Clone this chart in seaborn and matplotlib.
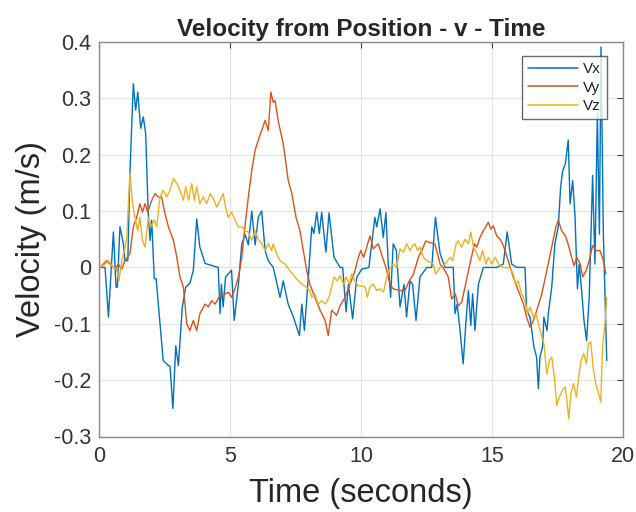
import numpy as np
import pandas as pd
import matplotlib
matplotlib.use("Agg")
import matplotlib.pyplot as plt
import seaborn as sns
from matplotlib.lines import Line2D

# ---- data ----
tx = [0.04, 0.23, 0.36, 0.55, 0.65, 0.70, 0.80, 0.93, 0.99, 1.10, 1.18, 1.31, 1.40, 1.48, 1.59, 1.69, 1.78,
      1.88, 1.95, 2.01, 2.11, 2.18, 2.33, 2.45, 2.58, 2.71, 2.82, 2.93, 3.03, 3.18, 3.31, 3.47, 3.60, 3.73,
      3.85, 4.05, 4.55, 4.62, 4.67, 4.74, 4.83, 5.06, 5.16, 5.32, 5.45, 5.58, 5.70, 5.83, 5.96, 6.08, 6.21,
      6.34, 6.46, 6.65, 6.91, 7.03, 7.22, 7.42, 7.65, 7.74, 7.84, 7.99, 8.12, 8.20, 8.31, 8.41, 8.50, 8.66,
      8.78, 8.97, 9.20, 9.30, 9.43, 9.52, 9.68, 9.84, 10.03, 10.30, 10.53, 10.60, 10.73, 10.85, 10.95, 11.04,
      11.13, 11.23, 11.35, 11.49, 11.64, 11.74, 11.87, 11.97, 12.10, 12.25, 12.51, 12.70, 12.84, 13.02, 13.21,
      13.52, 13.59, 13.67, 13.78, 13.90, 14.00, 14.10, 14.19, 14.26, 14.35, 14.48, 14.67, 15.18, 15.43, 15.58,
      15.75, 15.94, 16.26, 16.32, 16.45, 16.60, 16.70, 16.77, 16.83, 16.93, 16.98, 17.10, 17.15, 17.28, 17.40,
      17.53, 17.62, 17.70, 17.80, 17.91, 17.98, 18.08, 18.17, 18.26, 18.33, 18.42, 18.51, 18.61, 18.71, 18.84,
      18.93, 19.02, 19.10, 19.16, 19.25, 19.38]
vx = [0.0, 0.0, -0.088, 0.063, -0.035, -0.035, 0.072, 0.042, 0.012, 0.012, 0.167, 0.326, 0.279, 0.311, 0.247,
      0.267, 0.238, 0.095, 0.048, 0.084, -0.02, -0.02, -0.10, -0.165, -0.171, -0.176, -0.25, -0.139, -0.174,
      -0.07, -0.035, -0.028, -0.005, 0.086, 0.036, 0.007, 0.0, -0.082, -0.03, -0.07, -0.017, -0.005, -0.094,
      -0.03, 0.042, 0.058, 0.04, 0.10, 0.04, 0.089, 0.10, 0.03, 0.012, 0.0, -0.053, -0.024, -0.065, -0.088,
      -0.121, -0.065, -0.112, -0.017, 0.072, 0.06, 0.098, 0.06, 0.098, 0.027, 0.097, 0.018, 0.0, 0.0, -0.079,
      -0.03, -0.091, -0.017, -0.003, 0.0, 0.089, 0.072, 0.104, 0.053, 0.097, 0.006, -0.053, 0.042, 0.03,
      -0.07, -0.03, -0.088, -0.024, -0.03, -0.094, -0.017, 0.0, 0.0, 0.089, 0.024, 0.0, 0.0, -0.082, -0.065,
      -0.112, -0.171, -0.10, -0.041, -0.103, -0.047, -0.112, -0.03, 0.0, 0.0, 0.006, 0.063, 0.006, 0.0, 0.0,
      -0.076, -0.088, -0.141, -0.159, -0.215, -0.159, -0.141, -0.088, -0.112, -0.082, -0.035, 0.042, 0.072,
      0.143, 0.172, 0.184, 0.226, 0.113, 0.154, 0.089, -0.038, 0.006, -0.041, -0.094, -0.13, -0.053, 0.163,
      0.006, 0.273, 0.059, 0.391, 0.06, -0.165]

ty = [0.04, 0.29, 0.42, 0.61, 0.74, 0.87, 0.99, 1.18, 1.31, 1.44, 1.56, 1.66, 1.76, 1.86, 2.01, 2.14, 2.26,
      2.39, 2.52, 2.65, 2.84, 2.97, 3.09, 3.22, 3.35, 3.47, 3.60, 3.73, 3.85, 4.05, 4.17, 4.30, 4.43, 4.62,
      4.81, 4.93, 5.06, 5.19, 5.32, 5.45, 5.57, 5.70, 5.83, 5.96, 6.08, 6.21, 6.34, 6.46, 6.56, 6.65, 6.72,
      6.84, 7.03, 7.22, 7.36, 7.52, 7.67, 7.80, 7.93, 8.05, 8.24, 8.44, 8.63, 8.75, 8.88, 9.07, 9.20, 9.39,
      9.58, 9.77, 9.90, 9.99, 10.10, 10.22, 10.34, 10.47, 10.66, 10.78, 10.95, 11.11, 11.23, 11.49, 11.68,
      11.84, 12.00, 12.19, 12.32, 12.47, 12.63, 12.82, 13.02, 13.21, 13.33, 13.46, 13.60, 13.71, 13.84, 13.97,
      14.10, 14.23, 14.33, 14.42, 14.54, 14.67, 14.86, 14.96, 15.05, 15.18, 15.31, 15.43, 15.62, 15.81, 16.00,
      16.20, 16.32, 16.45, 16.58, 16.71, 16.90, 17.09, 17.28, 17.44, 17.53, 17.66, 17.80, 17.90, 18.04, 18.13,
      18.24, 18.37, 18.46, 18.59, 18.71, 18.84, 18.97, 19.12, 19.25, 19.35]
vy = [0.0, 0.012, 0.006, -0.003, 0.006, -0.003, 0.012, 0.024, 0.072, 0.089, 0.113, 0.098, 0.113, 0.098,
      0.119, 0.131, 0.125, 0.125, 0.095, 0.072, 0.048, 0.018, -0.017, -0.035, -0.10, -0.112, -0.094, -0.112,
      -0.082, -0.065, -0.07, -0.059, -0.065, -0.05, -0.047, -0.044, -0.053, -0.038, -0.017, 0.018, 0.072,
      0.125, 0.172, 0.208, 0.226, 0.243, 0.261, 0.243, 0.311, 0.293, 0.296, 0.26, 0.22, 0.155, 0.131, 0.089,
      0.065, 0.03, -0.006, -0.03, -0.053, -0.076, -0.094, -0.121, -0.076, -0.085, -0.068, -0.053, -0.03,
      -0.006, 0.018, 0.03, 0.018, 0.036, 0.056, 0.033, 0.042, 0.024, 0.0, -0.03, -0.038, -0.041, -0.041,
      -0.024, -0.012, 0.018, 0.03, 0.047, 0.044, 0.042, 0.006, -0.006, -0.017, -0.056, -0.047, -0.068, -0.062,
      -0.035, -0.006, 0.021, 0.042, 0.036, 0.053, 0.065, 0.08, 0.068, 0.074, 0.056, 0.05, 0.039, 0.012,
      -0.017, -0.041, -0.065, -0.088, -0.106, -0.094, -0.076, -0.047, -0.006, 0.036, 0.072, 0.084, 0.065,
      0.056, 0.042, 0.018, 0.003, 0.018, 0.006, -0.017, -0.006, 0.012, 0.039, 0.03, 0.03, 0.012, -0.012]

tz = [0.04, 0.23, 0.36, 0.55, 0.67, 0.76, 0.87, 0.97, 1.06, 1.18, 1.28, 1.37, 1.48, 1.56, 1.66, 1.76, 1.88,
      1.98, 2.11, 2.20, 2.33, 2.45, 2.58, 2.71, 2.84, 2.97, 3.09, 3.22, 3.31, 3.42, 3.54, 3.64, 3.73, 3.85,
      3.98, 4.11, 4.24, 4.37, 4.49, 4.62, 4.74, 4.83, 4.93, 5.06, 5.19, 5.32, 5.45, 5.57, 5.70, 5.83, 5.96,
      6.08, 6.21, 6.34, 6.46, 6.59, 6.65, 6.78, 6.91, 7.10, 7.29, 7.48, 7.67, 7.86, 8.05, 8.12, 8.24, 8.37,
      8.50, 8.65, 8.78, 8.88, 8.97, 9.10, 9.20, 9.33, 9.43, 9.56, 9.64, 9.77, 9.90, 10.03, 10.16, 10.24,
      10.34, 10.47, 10.60, 10.73, 10.86, 10.98, 11.11, 11.23, 11.36, 11.49, 11.62, 11.74, 11.87, 11.97, 12.06,
      12.16, 12.25, 12.38, 12.51, 12.63, 12.76, 12.85, 13.02, 13.21, 13.40, 13.50, 13.63, 13.71, 13.84, 13.97,
      14.10, 14.19, 14.29, 14.42, 14.54, 14.64, 14.77, 14.86, 14.99, 15.12, 15.25, 15.43, 15.69, 15.81, 15.90,
      16.00, 16.13, 16.26, 16.35, 16.45, 16.58, 16.68, 16.77, 16.90, 16.98, 17.09, 17.19, 17.28, 17.38, 17.47,
      17.57, 17.69, 17.79, 17.86, 17.93, 18.01, 18.11, 18.22, 18.31, 18.40, 18.50, 18.60, 18.68, 18.77, 18.87,
      18.96, 19.07, 19.15, 19.22, 19.31, 19.38]
vz = [0.0, 0.006, 0.012, 0.0, -0.003, -0.024, 0.012, 0.03, 0.053, 0.167, 0.113, 0.089, 0.065, 0.089, 0.048,
      0.036, 0.089, 0.072, 0.084, 0.072, 0.125, 0.137, 0.125, 0.137, 0.158, 0.149, 0.137, 0.119, 0.143, 0.119,
      0.149, 0.119, 0.143, 0.113, 0.125, 0.113, 0.131, 0.122, 0.107, 0.119, 0.131, 0.107, 0.089, 0.098, 0.084,
      0.072, 0.072, 0.065, 0.063, 0.048, 0.065, 0.05, 0.042, 0.03, 0.042, 0.03, 0.042, 0.024, 0.012, 0.006,
      -0.006, -0.017, -0.027, -0.033, -0.041, -0.053, -0.047, -0.065, -0.059, -0.065, -0.053, -0.035, -0.017,
      -0.024, -0.015, -0.03, -0.017, -0.03, -0.012, -0.024, -0.033, -0.033, -0.035, -0.053, -0.035, -0.03,
      -0.041, -0.038, -0.044, -0.017, 0.0, 0.006, 0.0, 0.033, 0.027, 0.042, 0.03, 0.039, 0.042, 0.03, 0.036,
      0.018, 0.012, 0.009, 0.006, -0.012, 0.0, 0.006, 0.018, 0.012, 0.042, 0.047, 0.036, 0.05, 0.042, 0.063,
      0.036, 0.024, 0.012, 0.03, 0.006, 0.018, 0.006, 0.018, 0.006, 0.0, -0.001, -0.012, -0.03, -0.024,
      -0.047, -0.059, -0.082, -0.07, -0.088, -0.082, -0.10, -0.123, -0.135, -0.189, -0.165, -0.159, -0.194,
      -0.245, -0.23, -0.218, -0.212, -0.236, -0.269, -0.224, -0.206, -0.23, -0.194, -0.165, -0.153, -0.171,
      -0.135, -0.132, -0.182, -0.206, -0.224, -0.239, -0.141, -0.10, -0.053]

labels = ["Vx", "Vy", "Vz"]
colors = ["#0072BD", "#D95319", "#EDB120"]
xticks = [0, 5, 10, 15, 20]
yticks = [-0.3, -0.2, -0.1, 0, 0.1, 0.2, 0.3, 0.4]

df = pd.concat([
    pd.DataFrame({"t": tx, "v": vx, "series": labels[0]}),
    pd.DataFrame({"t": ty, "v": vy, "series": labels[1]}),
    pd.DataFrame({"t": tz, "v": vz, "series": labels[2]}),
], ignore_index=True)

sns.set_style("white")
plt.rcParams["font.family"] = ["Liberation Sans", "DejaVu Sans"]

fig = plt.figure(figsize=(6.36, 5.12), dpi=100)
ax = fig.add_axes([99 / 636, 1 - 436.5 / 512, (623 - 99) / 636, (436.5 - 42) / 512])

sns.lineplot(data=df, x="t", y="v", hue="series", palette=dict(zip(labels, colors)),
             estimator=None, sort=False, linewidth=1.0, ax=ax, legend=False)

ax.set_xlim(0, 20)
ax.set_ylim(-0.3, 0.4)
ax.set_xticks(xticks)
ax.set_xticklabels([str(v) for v in xticks])
ax.set_yticks(yticks)
ax.set_yticklabels([("%g" % v) for v in yticks])
ax.grid(True, color="#e3e3e3", linewidth=0.9)
ax.set_axisbelow(True)

for s in ax.spines.values():
    s.set_visible(True)
    s.set_color("#8a8a8a")
    s.set_linewidth(1.0)
ax.tick_params(direction="in", length=4, width=0.8, color="#444444", labelsize=15.5,
               labelcolor="#333333", top=True, right=True)
ax.tick_params(axis="x", pad=7)
ax.tick_params(axis="y", pad=5.5)

ax.set_title("Velocity from Position - v - Time", fontsize=17.5, fontweight="bold", pad=4)
ax.set_xlabel("Time (seconds)", fontsize=23.5, color="#262626", labelpad=8)
ax.set_ylabel("Velocity (m/s)", fontsize=23.5, color="#262626", labelpad=5)

handles = [Line2D([0], [0], color=c, lw=1.1) for c in colors]
leg = ax.legend(handles, labels, loc="upper right", bbox_to_anchor=(0.969, 0.9645), fontsize=11,
                frameon=True, fancybox=False, handlelength=3.3, handletextpad=0.3,
                labelspacing=0.3, borderpad=0.4, borderaxespad=0, labelcolor="#222222")
leg.get_frame().set_edgecolor("#444444")
leg.get_frame().set_linewidth(1.0)

fig.savefig("out.png", dpi=100)
